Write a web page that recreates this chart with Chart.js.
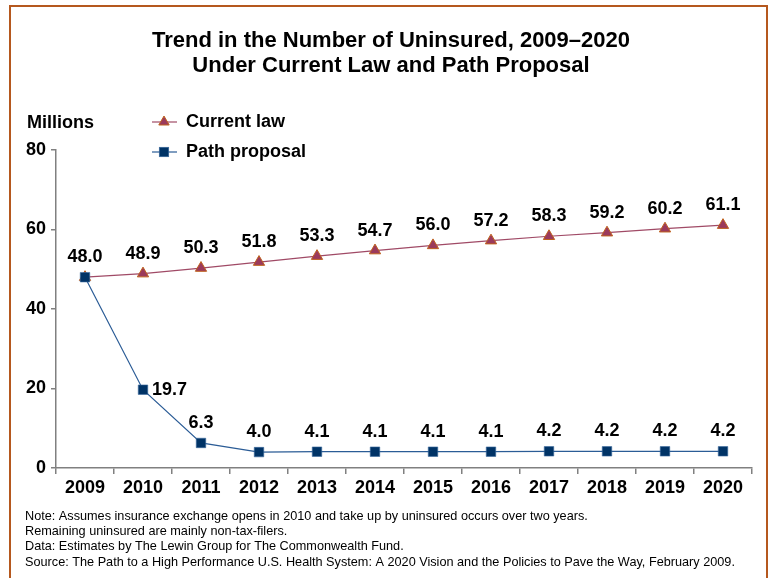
<!DOCTYPE html>
<html>
<head>
<meta charset="utf-8">
<script src="https://cdn.jsdelivr.net/npm/chart.js"></script>
<style>
  html, body { margin: 0; padding: 0; background: #fff; }
  #wrap { width: 770px; height: 578px; }
</style>
</head>
<body>
<div id="wrap"><canvas id="chart" width="770" height="578"></canvas></div>
<script>
// data
const years = ["2009", "2010", "2011", "2012", "2013", "2014", "2015", "2016", "2017", "2018", "2019", "2020"];
const currentLaw = [48.0, 48.9, 50.3, 51.8, 53.3, 54.7, 56.0, 57.2, 58.3, 59.2, 60.2, 61.1];
const pathProposal = [48.0, 19.7, 6.3, 4.0, 4.1, 4.1, 4.1, 4.1, 4.2, 4.2, 4.2, 4.2];
const yTicks = [0, 20, 40, 60, 80];

const titleLines = [
  "Trend in the Number of Uninsured, 2009\u20132020",
  "Under Current Law and Path Proposal"
];
const noteLines = [
  "Note: Assumes insurance exchange opens in 2010 and take up by uninsured occurs over two years.",
  "Remaining uninsured are mainly non-tax-filers.",
  "Data: Estimates by The Lewin Group for The Commonwealth Fund.",
  "Source: The Path to a High Performance U.S. Health System: A 2020 Vision and the Policies to Pave the Way, February 2009."
];

const FONT = '"Liberation Sans", Arial, sans-serif';
const axisGray = "#808080";
const lawLine = "#A04A66";
const lawFill = "#9B3A5C";
const lawBorder = "#C0621E";
const pathLine = "#2B5C96";
const pathFill = "#003366";

function drawMarker(ctx, style, x, y) {
  ctx.save();
  if (style === "triangle") {
    const r = 6;
    ctx.beginPath();
    ctx.moveTo(x, y - r);
    ctx.lineTo(x + r * 0.866, y + r * 0.5);
    ctx.lineTo(x - r * 0.866, y + r * 0.5);
    ctx.closePath();
    ctx.fillStyle = lawFill;
    ctx.fill();
    ctx.strokeStyle = lawBorder;
    ctx.lineWidth = 1;
    ctx.stroke();
  } else {
    ctx.fillStyle = pathFill;
    ctx.fillRect(x - 4.75, y - 4.75, 9.5, 9.5);
    ctx.strokeStyle = "#3A6A9E";
    ctx.lineWidth = 0.6;
    ctx.strokeRect(x - 4.75, y - 4.75, 9.5, 9.5);
  }
  ctx.restore();
}

const decorPlugin = {
  id: "decor",
  beforeDraw(chart) {
    const ctx = chart.ctx;
    ctx.save();
    ctx.fillStyle = "#fff";
    ctx.fillRect(0, 0, chart.width, chart.height);
    ctx.strokeStyle = "#B5581E";
    ctx.lineWidth = 2;
    ctx.strokeRect(10, 6, 757, 700);
    ctx.restore();
  },
  afterDraw(chart) {
    const ctx = chart.ctx;
    ctx.save();
    ctx.fillStyle = "#000";

    // title
    ctx.font = "bold 22px " + FONT;
    ctx.textAlign = "center";
    ctx.textBaseline = "alphabetic";
    ctx.fillText(titleLines[0], 391, 47);
    ctx.fillText(titleLines[1], 391, 72);

    // axis caption
    ctx.font = "bold 18px " + FONT;
    ctx.textAlign = "left";
    ctx.textBaseline = "middle";
    ctx.fillText("Millions", 27, 123);

    // legend
    ctx.strokeStyle = lawLine;
    ctx.lineWidth = 1.2;
    ctx.beginPath(); ctx.moveTo(152, 122); ctx.lineTo(177, 122); ctx.stroke();
    drawMarker(ctx, "triangle", 164, 122);
    ctx.strokeStyle = pathLine;
    ctx.beginPath(); ctx.moveTo(152, 152); ctx.lineTo(177, 152); ctx.stroke();
    drawMarker(ctx, "rect", 164, 152);
    ctx.fillStyle = "#000";
    ctx.fillText("Current law", 186, 122);
    ctx.fillText("Path proposal", 186, 152);

    // notes
    ctx.font = "12.7px " + FONT;
    noteLines.forEach((t, i) => ctx.fillText(t, 25, 516 + i * 15.4));
    ctx.restore();
  },
  afterDatasetsDraw(chart) {
    const ctx = chart.ctx;
    const xs = chart.scales.x, ys = chart.scales.y;
    ctx.save();
    ctx.fillStyle = "#000";
    ctx.font = "bold 18px " + FONT;
    ctx.textBaseline = "middle";
    ctx.textAlign = "center";
    currentLaw.forEach((v, i) => {
      if (i === 0) return;
      ctx.fillText(v.toFixed(1), xs.getPixelForValue(i), ys.getPixelForValue(v) - 20);
    });
    pathProposal.forEach((v, i) => {
      const x = xs.getPixelForValue(i), y = ys.getPixelForValue(v);
      if (i === 1) {
        ctx.textAlign = "left";
        ctx.fillText(v.toFixed(1), x + 9, y);
        ctx.textAlign = "center";
      } else {
        ctx.fillText(v.toFixed(1), x, y - 20);
      }
    });
    ctx.restore();
  }
};

const ctx = document.getElementById("chart").getContext("2d");
const chart = new Chart(ctx, {
  type: "line",
  data: {
    labels: years,
    datasets: [
      {
        label: "Current law",
        data: currentLaw,
        order: 1,
        borderColor: lawLine,
        borderWidth: 1.2,
        pointStyle: "triangle",
        pointRadius: 6.5,
        pointBackgroundColor: lawFill,
        pointBorderColor: lawBorder,
        pointBorderWidth: 1,
        tension: 0
      },
      {
        label: "Path proposal",
        data: pathProposal,
        order: 0,
        borderColor: pathLine,
        borderWidth: 1.2,
        pointStyle: "rect",
        pointRadius: 6.7,
        pointBackgroundColor: pathFill,
        pointBorderColor: "#3A6A9E",
        pointBorderWidth: 0.6,
        tension: 0
      }
    ]
  },
  options: {
    responsive: false,
    animation: false,
    events: [],
    layout: { padding: { left: 0, right: 18, top: 150, bottom: 70 } },
    plugins: {
      legend: { display: false },
      title: { display: false },
      tooltip: { enabled: false }
    },
    scales: {
      x: {
        type: "category",
        offset: true,
        grid: { offset: true, drawOnChartArea: false, tickLength: 6, color: axisGray, lineWidth: 1.5 },
        border: { color: axisGray, width: 1.5 },
        ticks: {
          color: "#000",
          font: { family: FONT, size: 18, weight: "bold" },
          padding: 3,
          maxRotation: 0,
          autoSkip: false
        },
        afterFit(scale) { scale.height = 40; }
      },
      y: {
        min: 0,
        max: 80,
        afterBuildTicks(scale) { scale.ticks = yTicks.map(v => ({ value: v })); },
        grid: { drawOnChartArea: false, tickLength: 5, color: axisGray, lineWidth: 1.5 },
        border: { color: axisGray, width: 1.5 },
        ticks: {
          color: "#000",
          font: { family: FONT, size: 18, weight: "bold" },
          padding: 5
        },
        afterFit(scale) { scale.width = 56; }
      }
    }
  },
  plugins: [decorPlugin]
});
</script>
</body>
</html>
